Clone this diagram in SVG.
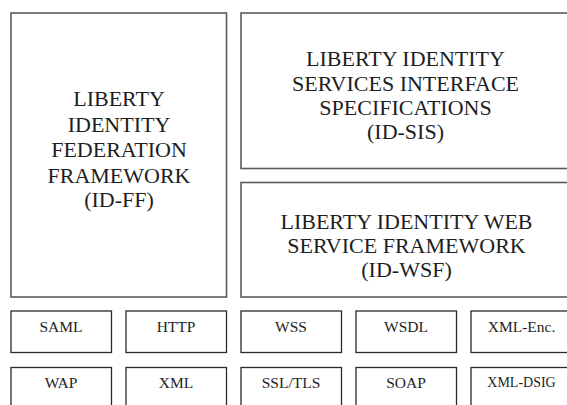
<svg xmlns="http://www.w3.org/2000/svg" width="567" height="405" viewBox="0 0 567 405" font-family="'Liberation Serif', 'Times New Roman', serif">
<style>
.big{fill:#fff;stroke:#5a5a5a;stroke-width:1.6}
.sm{fill:#fff;stroke:#2a2a2a;stroke-width:1.3}
text{fill:#1e1e1e;text-anchor:middle}
</style>
<rect width="567" height="405" fill="#fff"/>
<g id="id-ff" font-size="22">
<rect class="big" x="11" y="13" width="215.5" height="284"/>
<text x="119" y="106">LIBERTY</text>
<text x="119" y="131.5">IDENTITY</text>
<text x="119" y="157">FEDERATION</text>
<text x="119" y="182.5">FRAMEWORK</text>
<text x="119" y="207">(ID-FF)</text>
</g>
<g id="id-sis" font-size="22">
<rect class="big" x="241" y="13" width="340" height="155.5"/>
<text x="405.5" y="66">LIBERTY IDENTITY</text>
<text x="405.5" y="90.5">SERVICES INTERFACE</text>
<text x="405.5" y="115">SPECIFICATIONS</text>
<text x="405.5" y="139">(ID-SIS)</text>
</g>
<g id="id-wsf" font-size="22">
<rect class="big" x="241" y="182.5" width="340" height="114.5"/>
<text x="406.5" y="229">LIBERTY IDENTITY WEB</text>
<text x="406.5" y="253">SERVICE FRAMEWORK</text>
<text x="406.5" y="277">(ID-WSF)</text>
</g>
<g font-size="15.5">
<g id="saml"><rect class="sm" x="11" y="311" width="100.5" height="41.5"/><text x="61" y="332">SAML</text></g>
<g id="http"><rect class="sm" x="126" y="311" width="100.5" height="41.5"/><text x="176" y="332">HTTP</text></g>
<g id="wss"><rect class="sm" x="241" y="311" width="100.5" height="41.5"/><text x="291" y="332">WSS</text></g>
<g id="wsdl"><rect class="sm" x="356" y="311" width="100.5" height="41.5"/><text x="406" y="332">WSDL</text></g>
<g id="xml-enc"><rect class="sm" x="471" y="311" width="100.5" height="41.5"/><text x="521.5" y="332">XML-Enc.</text></g>
<g id="wap"><rect class="sm" x="11" y="367.5" width="100.5" height="50"/><text x="61" y="388">WAP</text></g>
<g id="xml"><rect class="sm" x="126" y="367.5" width="100.5" height="50"/><text x="176" y="388">XML</text></g>
<g id="ssl-tls"><rect class="sm" x="241" y="367.5" width="100.5" height="50"/><text x="291" y="388">SSL/TLS</text></g>
<g id="soap"><rect class="sm" x="356" y="367.5" width="100.5" height="50"/><text x="406" y="388">SOAP</text></g>
<g id="xml-dsig"><rect class="sm" x="471" y="367.5" width="100.5" height="50"/><text font-size="14" x="521.5" y="387">XML-DSIG</text></g>
</g>
<g id="connectors"/>
</svg>
